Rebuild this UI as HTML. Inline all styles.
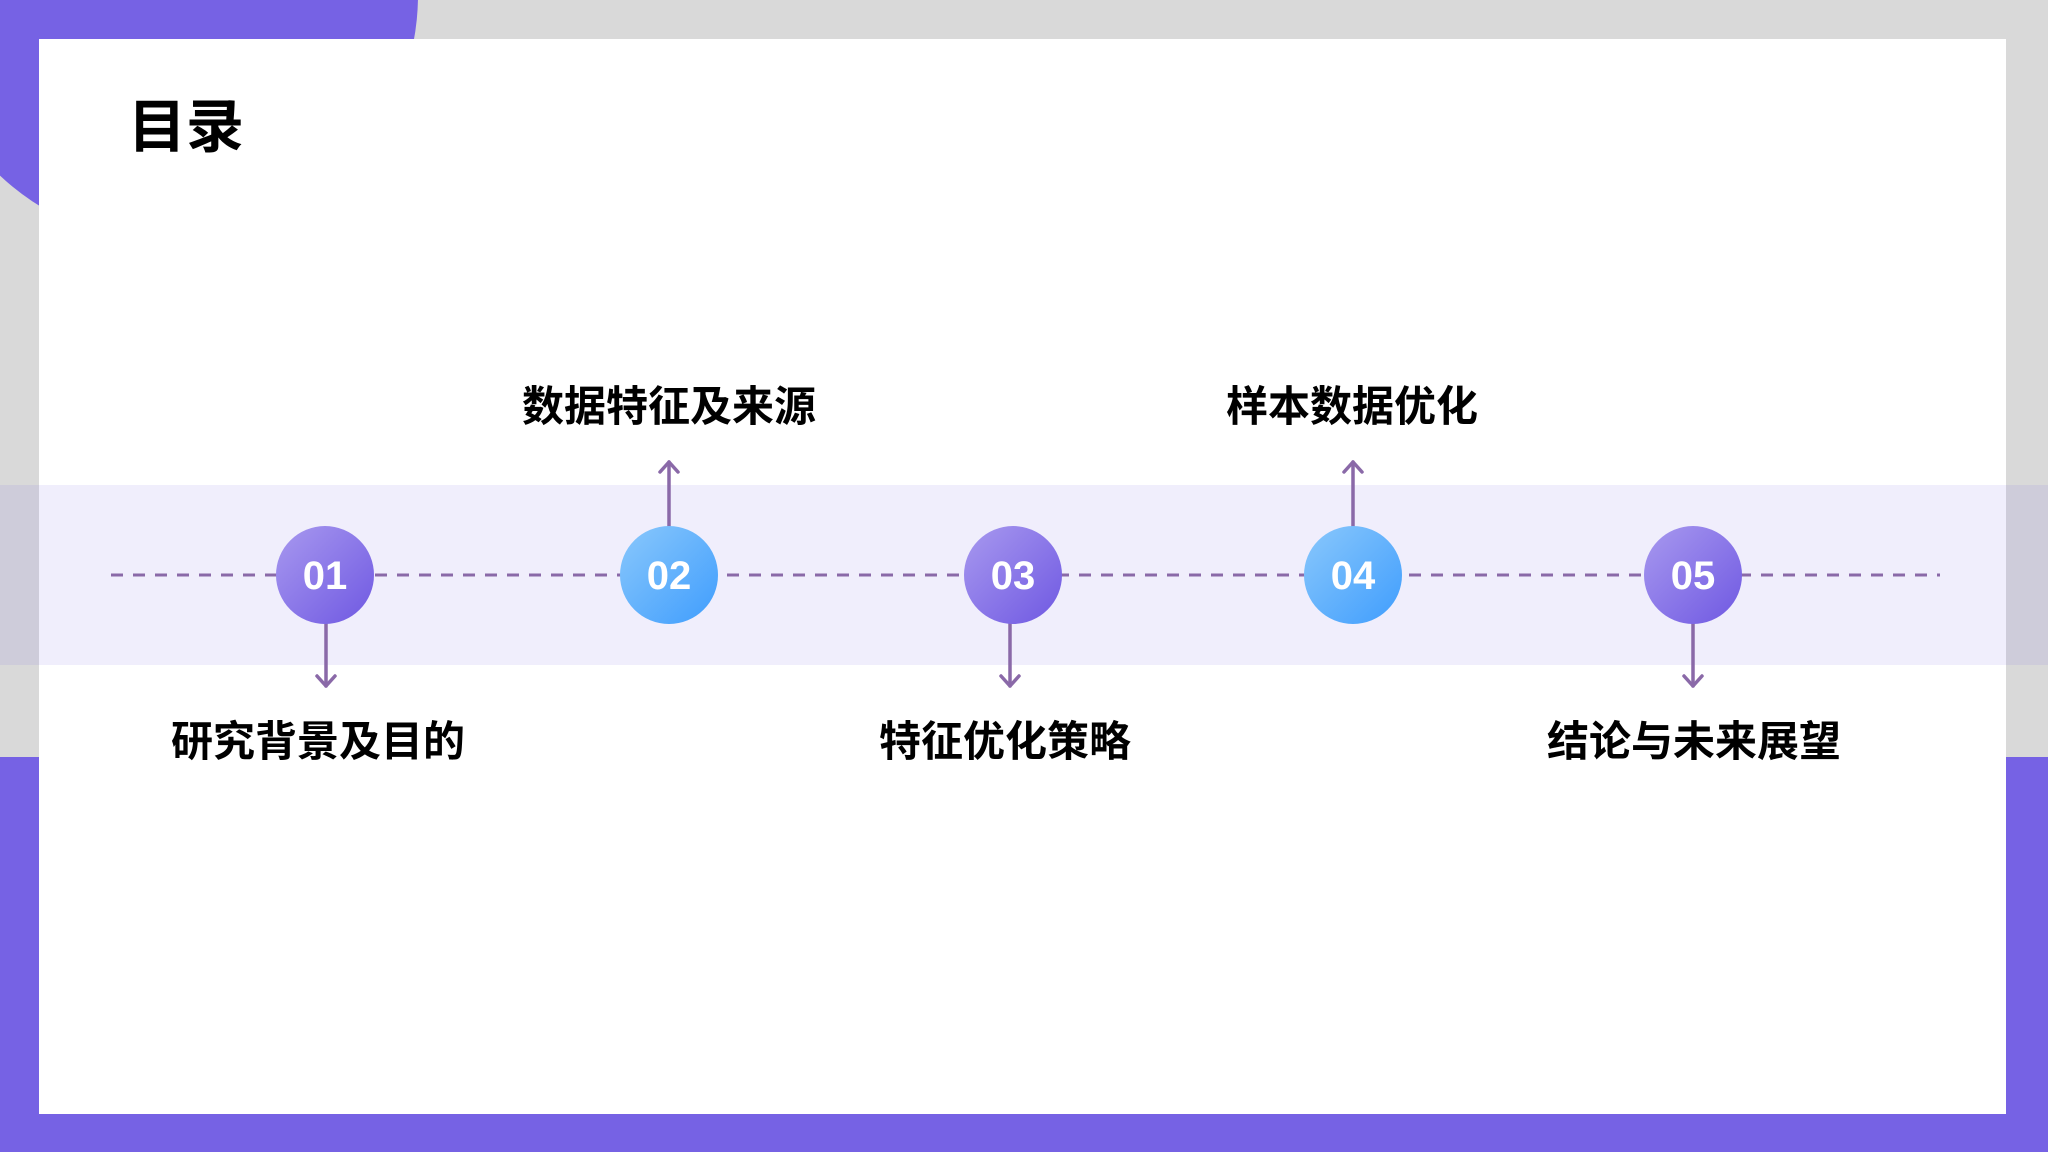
<!DOCTYPE html>
<html><head><meta charset="utf-8"><style>
html,body{margin:0;padding:0;width:2048px;height:1152px;overflow:hidden;background:#d9d9d9;}
</style></head><body>
<svg width="2048" height="1152" viewBox="0 0 2048 1152" xmlns="http://www.w3.org/2000/svg" style="display:block">
<defs>
<linearGradient id="gp" x1="0" y1="0" x2="1" y2="1"><stop offset="0" stop-color="#a899ef"/><stop offset="1" stop-color="#6f58e2"/></linearGradient>
<linearGradient id="gb" x1="0" y1="0" x2="1" y2="1"><stop offset="0" stop-color="#8ac8fc"/><stop offset="1" stop-color="#3f9dfd"/></linearGradient>
</defs>
<rect width="2048" height="1152" fill="#d9d9d9"/>
<circle cx="170" cy="-5" r="248" fill="#7662e4"/>
<rect x="0" y="757" width="2048" height="395" fill="#7662e4"/>
<rect x="39" y="39" width="1967" height="1075" fill="#ffffff"/>
<rect x="0" y="485" width="2048" height="180" fill="rgba(118,98,228,0.11)"/>
<text x="128" y="147" font-family="Liberation Sans, Noto Sans CJK SC, sans-serif" font-weight="bold" font-size="58" fill="#000">目录</text>
<line x1="111" y1="575" x2="1940" y2="575" stroke="#8a69a8" stroke-width="3" stroke-dasharray="12 10"/>
<g stroke="#8a69a8" stroke-width="3.5" fill="none" stroke-linecap="round" stroke-linejoin="round">
<line x1="326" y1="624" x2="326" y2="686"/><polyline points="317,676 326,686 335,676"/>
<line x1="669" y1="526" x2="669" y2="462"/><polyline points="660,472 669,462 678,472"/>
<line x1="1010" y1="624" x2="1010" y2="686"/><polyline points="1001,676 1010,686 1019,676"/>
<line x1="1353" y1="526" x2="1353" y2="462"/><polyline points="1344,472 1353,462 1362,472"/>
<line x1="1693" y1="624" x2="1693" y2="686"/><polyline points="1684,676 1693,686 1702,676"/>
</g>
<g font-family="Liberation Sans, sans-serif" font-weight="bold" font-size="40" fill="#fff" text-anchor="middle">
<circle cx="325" cy="575" r="49" fill="url(#gp)"/><text x="325" y="589">01</text>
<circle cx="669" cy="575" r="49" fill="url(#gb)"/><text x="669" y="589">02</text>
<circle cx="1013" cy="575" r="49" fill="url(#gp)"/><text x="1013" y="589">03</text>
<circle cx="1353" cy="575" r="49" fill="url(#gb)"/><text x="1353" y="589">04</text>
<circle cx="1693" cy="575" r="49" fill="url(#gp)"/><text x="1693" y="589">05</text>
</g>
<g font-family="Liberation Sans, Noto Sans CJK SC, sans-serif" font-weight="bold" font-size="42" fill="#000" text-anchor="middle">
<text x="318" y="756">研究背景及目的</text>
<text x="669" y="421">数据特征及来源</text>
<text x="1005" y="756">特征优化策略</text>
<text x="1352" y="421">样本数据优化</text>
<text x="1694" y="756">结论与未来展望</text>
</g>
</svg>
</body></html>
